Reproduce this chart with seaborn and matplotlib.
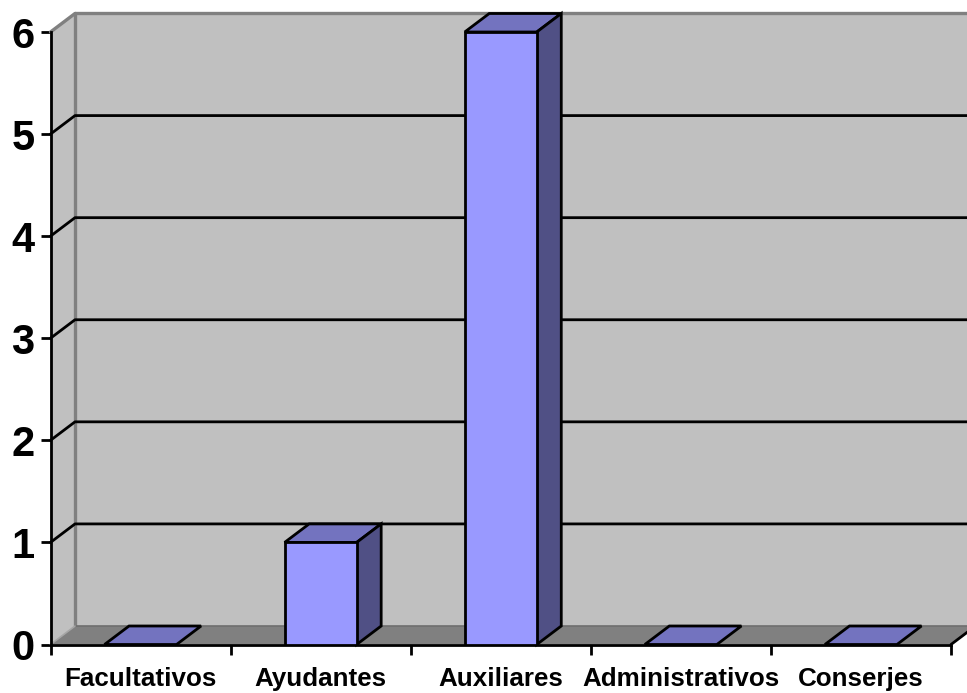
import matplotlib
matplotlib.use("Agg")
import matplotlib.pyplot as plt
import pandas as pd
import seaborn as sns

categories = ["Facultativos", "Ayudantes", "Auxiliares", "Administrativos", "Conserjes"]
values = [0, 1, 6, 0, 0]
y_ticks = [0, 1, 2, 3, 4, 5, 6]

df = pd.DataFrame({"categoria": categories, "valor": values})

sns.set_style("white")
plt.rcParams["font.family"] = ["Liberation Sans", "DejaVu Sans"]
plt.rcParams["font.weight"] = "bold"

W, H = 967, 693
LW = 2.0
fig = plt.figure(figsize=(W / 100, H / 100), dpi=100)
ax = fig.add_axes([50.5 / W, (H - 644.5) / H, 900.5 / W, 612.5 / H])
ax.patch.set_alpha(0)

sns.barplot(data=df, x="categoria", y="valor", ax=ax, color="#9999FF", saturation=1,
            width=0.4, edgecolor="black", linewidth=LW)
bars = list(ax.containers[0])
ax.set_xlim(-0.5, len(categories) - 0.5)
ax.set_ylim(0, 6)

# depth of the fake 3d box, in data units
dx = 24.5 / (900.5 / 5)
dy = 18.5 / (612.5 / 6)
x0 = -0.5
x1 = len(categories) - 0.5
top = max(y_ticks)

# walls and floor
ax.fill([x0 + dx, x1 + dx, x1 + dx, x0 + dx], [dy, dy, top + dy, top + dy],
        color="#C0C0C0", lw=0, clip_on=False, zorder=0.5)
ax.fill([x0, x0 + dx, x0 + dx, x0], [0, dy, top + dy, top],
        color="#C0C0C0", lw=0, clip_on=False, zorder=0.5)
ax.fill([x0, x1, x1 + dx, x0 + dx], [0, 0, dy, dy],
        color="#808080", lw=0, clip_on=False, zorder=0.6)

# grey wall edges
ax.plot([x0, x0 + dx, x1 + dx], [top, top + dy, top + dy], color="#808080", lw=2.4,
        clip_on=False, zorder=0.7)
ax.plot([x0 + dx, x0 + dx], [dy, top + dy], color="#808080", lw=2.4, clip_on=False, zorder=0.7)
ax.plot([x0 + dx, x1 + dx], [dy, dy], color="#6E6E6E", lw=1.2, clip_on=False, zorder=0.7)
ax.plot([x0, x0 + dx], [0, dy], color="#A6A6A6", lw=1.2, clip_on=False, zorder=0.7)

# gridlines go along the side wall then the back wall
for t in y_ticks[1:-1]:
    ax.plot([x0, x0 + dx, x1 + dx], [t, t + dy, t + dy], color="black", lw=LW,
            clip_on=False, zorder=0.8)

ax.plot([x1, x1 + dx], [0, dy], color="black", lw=LW, clip_on=False, zorder=0.8)

# top and side faces of every bar
for p in bars:
    bx = p.get_x()
    bw = p.get_width()
    bh = p.get_height()
    ax.fill([bx, bx + bw, bx + bw + dx, bx + dx], [bh, bh, bh + dy, bh + dy],
            facecolor="#7373BF", edgecolor="black", lw=LW, joinstyle="miter",
            clip_on=False, zorder=3)
    if bh > 0:
        ax.fill([bx + bw, bx + bw + dx, bx + bw + dx, bx + bw], [0, dy, bh + dy, bh],
                facecolor="#505085", edgecolor="black", lw=LW, joinstyle="miter",
                clip_on=False, zorder=3)
    p.set_zorder(3.1)

ax.set_xlabel("")
ax.set_ylabel("")
ax.set_yticks(y_ticks)
ax.set_xticks(range(len(categories)))
ax.set_xticklabels(categories, fontsize=18.7, fontweight="bold", color="black")
ax.set_xticks([x0 + i for i in range(len(categories) + 1)], minor=True)
ax.set_yticklabels([str(t) for t in y_ticks], fontsize=30, fontweight="bold", color="black")
ax.tick_params(axis="x", which="major", length=0, pad=16)
ax.tick_params(axis="x", which="minor", length=7.5, width=LW, color="black", bottom=True)
ax.tick_params(axis="y", which="major", length=7.5, width=LW, pad=4, color="black", left=True)

sns.despine(ax=ax, top=True, right=True)
for s in ["left", "bottom"]:
    ax.spines[s].set_linewidth(LW)
    ax.spines[s].set_color("black")
    ax.spines[s].set_zorder(2.5)

fig.savefig("out.png", dpi=100, facecolor="white")
